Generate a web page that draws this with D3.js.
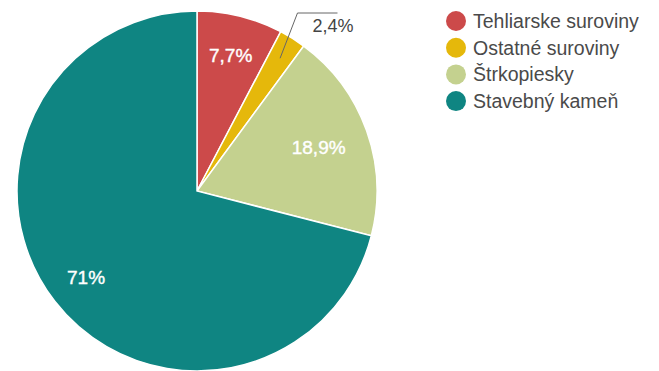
<!DOCTYPE html>
<html><head><meta charset="utf-8">
<script src="https://cdn.jsdelivr.net/npm/d3@7"></script>
<style>html,body{margin:0;padding:0;background:#fff;}svg{display:block;}</style>
</head><body>
<svg id="chart" width="659" height="371"></svg>
<script>
const categories = ["Tehliarske suroviny", "Ostatné suroviny", "Štrkopiesky", "Stavebný kameň"];
const values = [7.7, 2.4, 18.9, 71];
const labels = ["7,7%", "2,4%", "18,9%", "71%"];
const colors = ["#cc4a4a", "#e5b80b", "#c4d18f", "#0f8582"];

const svg = d3.select("#chart");
const cx = 197, cy = 191, R = 180;
const font = "'Liberation Sans', Arial, sans-serif";

const pie = d3.pie().sort(null).value(d => d)(values);
const arc = d3.arc().innerRadius(0).outerRadius(R);
const labelArc = d3.arc().innerRadius(R * 0.78).outerRadius(R * 0.78);

const g = svg.append("g").attr("transform", `translate(${cx},${cy})`);
g.selectAll("path").data(pie).join("path")
  .attr("d", arc)
  .attr("fill", (d, i) => colors[i])
  .attr("stroke", "#fff")
  .attr("stroke-width", 1.5);

// inside labels
g.selectAll("text.in").data(pie.filter((d, i) => i !== 1)).join("text")
  .attr("class", "in")
  .attr("transform", d => {
    const [x, y] = labelArc.centroid(d);
    const adj = d.index === 2 ? 0.92 : 1;
    return `translate(${x * adj},${y * adj})`;
  })
  .attr("text-anchor", "middle")
  .attr("dy", "0.36em")
  .attr("fill", "#fff")
  .attr("font-family", font)
  .attr("font-size", 19)
  .attr("stroke", "#fff")
  .attr("stroke-width", 0.4)
  .text(d => labels[d.index]);

// outside label for small slice
const small = pie[1];
const mid = (small.startAngle + small.endAngle) / 2;
const p0 = [Math.sin(mid) * (R * 0.87), -Math.cos(mid) * (R * 0.87)];
const p1 = [Math.sin(mid) * R + 5, -cy + 13];
const p2 = [p1[0] + 40, p1[1]];
g.append("path")
  .attr("d", d3.line()([p0, p1, p2]))
  .attr("fill", "none")
  .attr("stroke", "#666")
  .attr("stroke-width", 1);
g.append("text")
  .attr("x", p1[0] + 15)
  .attr("y", p1[1] + 19)
  .attr("fill", "#444")
  .attr("font-family", font)
  .attr("font-size", 18)
  .text(labels[1]);

// legend
const leg = svg.append("g").attr("transform", "translate(456,21)");
const rows = leg.selectAll("g").data(categories).join("g")
  .attr("transform", (d, i) => `translate(0,${i * 26.7})`);
rows.append("circle").attr("r", 10).attr("fill", (d, i) => colors[i]);
rows.append("text")
  .attr("x", 17)
  .attr("dy", "0.36em")
  .attr("fill", "#4a4a4a")
  .attr("font-family", font)
  .attr("font-size", 19.5)
  .text(d => d);
</script>
</body></html>
